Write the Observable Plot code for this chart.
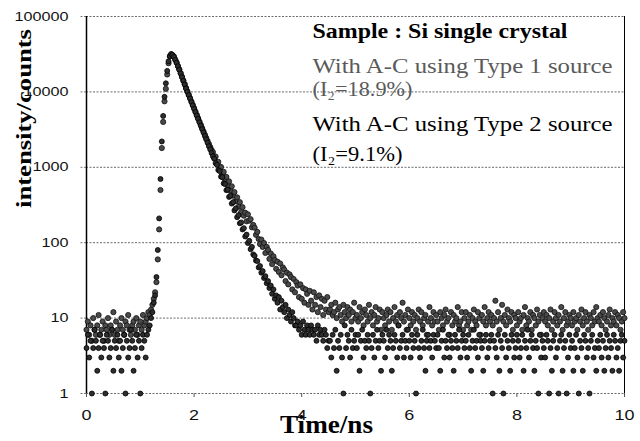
<!DOCTYPE html>
<html><head><meta charset="utf-8">
<script src="https://cdn.jsdelivr.net/npm/d3@7"></script>
<script src="https://cdn.jsdelivr.net/npm/@observablehq/plot@0.6"></script>
<style>html,body{margin:0;padding:0;background:#fff}</style>
</head><body><div id="chart"></div>
<script>
// time channel width (ns); counts listed channel by channel from t = 0
const channelWidth = 0.025;

const type1Counts = [
  // 0 – 1.175 ns
  7,9,6,8,5,10,7,6,8,11,6,7,9,5,8,7,10,6,8,7,12,6,9,7,5,8,10,7,6,9,8,11,7,6,8,9,7,10,6,8,9,7,11,8,9,10,12,11,
  // 1.2 – 1.575 ns
  13,15,18,22,30,60,150,500,1800,4000,7500,11000,17000,24000,29500,31500,
  // 1.6 – 4.5 ns
  30600,29500,26900,24600,22000,19900,17800,15900,14200,12700,
  11300,10200,9200,8300,7480,6750,6100,5500,4960,4480,
  4040,3650,3300,2990,2710,2460,2240,2040,1860,1700,
  1590,1330,1390,1120,1180,930,1010,800,870,690,
  745,575,650,490,560,420,470,355,400,300,
  345,255,296,228,250,192,
  238,196,205,160,172,158,127,139,112,96,110,88,99,73,88,80,61,72,52,66,59,45,56,41,53,37,47,44,31,40,28,38,35,24,33,22,30,27,19,28,18,25,16,24,21,15,23,17,13,22,15,19,12,20,14,18,11,17,13,19,12,
  // 4.525 – 10 ns
  13,15,11,12,16,10,13,14,11,9,15,12,10,14,11,13,9,12,16,10,
  11,9,14,10,12,8,13,11,9,15,10,12,8,11,14,9,10,13,7,12,
  10,8,11,13,9,12,7,10,14,9,11,8,12,10,16,9,11,7,13,10,
  8,12,9,11,7,10,13,9,12,8,10,11,6,9,14,10,8,12,9,11,
  9,7,12,10,8,11,13,9,10,6,12,8,11,9,10,14,8,9,12,7,
  10,12,8,9,11,7,10,13,9,8,12,10,6,11,9,14,8,10,12,9,
  11,8,10,17,9,12,7,10,15,9,11,8,13,10,9,12,7,11,10,8,
  12,9,10,7,11,14,8,10,9,12,7,11,10,8,13,9,11,6,10,12,
  9,11,8,10,13,7,9,12,10,8,11,9,14,7,10,12,8,9,11,10,
  8,12,9,10,7,11,9,13,8,10,12,9,7,11,10,8,12,9,14,10,
  9,11,8,12,10,7,9,11,13,8,10,9,12,8,11,10,7,9,12,10
];

const type2Counts = [
  // 0 – 1.175 ns
  4,6,3,5,1,4,7,5,2,4,6,3,5,4,1,6,5,3,4,7,2,5,4,6,3,5,2,4,6,1,5,3,4,7,5,2,4,6,3,5,1,4,6,5,3,6,7,8,
  // 1.2 – 1.575 ns
  10,12,16,20,35,80,210,700,2200,4800,8600,13000,19000,25500,30000,31800,
  // 1.6 – 4.5 ns
  30800,29000,26600,24300,21900,19700,17600,15700,14000,12500,
  11100,10000,9050,8150,7330,6620,5970,5390,4850,4380,
  3950,3560,3210,2900,2610,2350,2120,1905,1725,1550,
  1400,1300,1135,1080,920,890,752,740,612,600,
  498,505,405,420,330,345,268,285,218,232,
  181,186,150,156,121,128,99,106,82,88,
  70,67,58,57,47,49,40,42,34,36,
  29,31,25,27,21,24,18,20,16,19,
  13,17,14,12,15,10,13,11,9,12,10,8,
  8,9,7,8,6,9,7,6,8,7,6,8,7,6,7,5,8,6,7,6,5,7,6,4,5,
  // 4.525 – 10 ns
  5,3,6,4,7,2,5,4,6,3,1,8,4,6,5,3,7,4,5,6,
  4,6,2,5,7,3,5,4,6,5,1,4,6,3,5,7,4,5,2,6,
  5,3,7,4,6,5,2,4,6,5,3,8,4,5,6,3,5,4,7,5,
  3,6,4,5,1,6,4,3,5,7,4,2,5,6,4,5,3,6,5,4,
  6,4,2,5,7,3,5,4,6,3,5,4,2,6,5,4,7,3,5,6,
  4,5,3,6,4,2,5,7,4,5,3,6,5,4,2,5,6,3,4,5,
  6,1,5,4,3,6,2,5,4,1,6,3,5,4,2,6,5,3,4,6,
  5,3,4,6,2,5,4,7,3,5,6,4,2,5,4,1,6,3,5,4,
  3,6,5,1,4,2,5,6,3,4,1,5,6,2,4,5,1,3,6,4,
  5,2,4,6,3,1,5,4,2,6,5,3,4,1,5,6,3,4,2,5,
  4,6,3,5,2,4,6,3,5,4,2,6,5,3,4,2,5,6,3,5
];

const xTicks = [0, 2, 4, 6, 8, 10];
const yTicks = [1, 10, 100, 1000, 10000, 100000];
const seriesNames = ["With A-C using Type 1 source", "With A-C using Type 2 source"];
const legendLines = [
  "Sample : Si single crystal",
  "With A-C using Type 1 source",
  "(I\u2082=18.9%)",
  "With A-C using Type 2 source",
  "(I\u2082=9.1%)"
];
const xTitle = "Time/ns";
const yTitle = "intensity/counts";

const type1 = type1Counts.map((c, i) => ({time: i * channelWidth, counts: c, series: seriesNames[0]}));
const type2 = type2Counts.map((c, i) => ({time: i * channelWidth, counts: c, series: seriesNames[1]}));

const serif = "Liberation Serif, Times New Roman, serif";
const sans = "Liberation Sans, Arial, sans-serif";
const legendColors = ["#000", "#5a5a5a", "#5a5a5a", "#000", "#000"];
const legendDy = [21, 56, 79, 114, 144];

const chart = Plot.plot({
  width: 640,
  height: 441,
  marginLeft: 86,
  marginRight: 16,
  marginTop: 16,
  marginBottom: 48,
  style: {fontFamily: sans, fontSize: "13px", background: "#fff", color: "#111"},
  x: {domain: [0, 10]},
  y: {type: "log", domain: [1, 100000]},
  marks: [
    Plot.gridY(yTicks, {stroke: "#6a6a6a", strokeOpacity: 1, strokeWidth: 1, strokeDasharray: "2,1.5"}),
    Plot.axisY({ticks: yTicks, tickFormat: d => String(d), tickSize: 6, tickPadding: 12, stroke: "#777", strokeDasharray: "2,1.5", fontSize: 13, fill: "#111", label: null}),
    Plot.axisX({ticks: xTicks, tickFormat: d => String(d), tickSize: 4, tickPadding: 12, stroke: "#555", fontSize: 15, fill: "#111", label: null}),
    Plot.ruleX([0], {stroke: "#000", strokeWidth: 1.5}),
    Plot.ruleX([10], {stroke: "#000", strokeWidth: 1}),
    Plot.dot(type1, {x: "time", y: "counts", r: 2.6, fill: "#4a4a4a", stroke: "#111", strokeWidth: 0.8}),
    Plot.dot(type2, {x: "time", y: "counts", r: 2.5, fill: "#2e2e2e", stroke: "#000", strokeWidth: 0.8}),
    ...legendLines.map((line, i) => Plot.text([line], {
      frameAnchor: "top-left", textAnchor: "start", lineAnchor: "bottom",
      dx: 226, dy: legendDy[i], fontFamily: serif, fontSize: 22,
      fontWeight: i === 0 ? "bold" : "normal", fill: legendColors[i]
    })),
    Plot.text([yTitle], {frameAnchor: "left", rotate: -90, dx: -63, dy: 3, fontFamily: serif, fontSize: 22, fontWeight: "bold", fill: "#000"}),
    Plot.text([xTitle], {frameAnchor: "bottom", lineAnchor: "bottom", dx: -29, dy: 39, fontFamily: serif, fontSize: 26, fontWeight: "bold", fill: "#000"})
  ]
});

document.getElementById("chart").appendChild(chart);

// widen texts to the proportions of the scanned figure
const fitLengths = {
  "Sample : Si single crystal": 255,
  "With A-C using Type 1 source": 300,
  "(I\u2082=18.9%)": 100,
  "With A-C using Type 2 source": 300,
  "(I\u2082=9.1%)": 90,
  "intensity/counts": 179,
  "Time/ns": 93
};
const svg = d3.select(chart);
svg.selectAll("text").each(function() {
  const t = this.textContent;
  if (fitLengths[t]) {
    this.setAttribute("textLength", fitLengths[t]);
    this.setAttribute("lengthAdjust", "spacingAndGlyphs");
  }
});
svg.selectAll('g[aria-label="y-axis tick label"] text').each(function() {
  this.setAttribute("textLength", this.textContent.length * 9);
  this.setAttribute("lengthAdjust", "spacingAndGlyphs");
});
svg.selectAll('g[aria-label="x-axis tick label"] text').each(function() {
  this.setAttribute("textLength", this.textContent.length * 10);
  this.setAttribute("lengthAdjust", "spacingAndGlyphs");
});
</script>
</body></html>
